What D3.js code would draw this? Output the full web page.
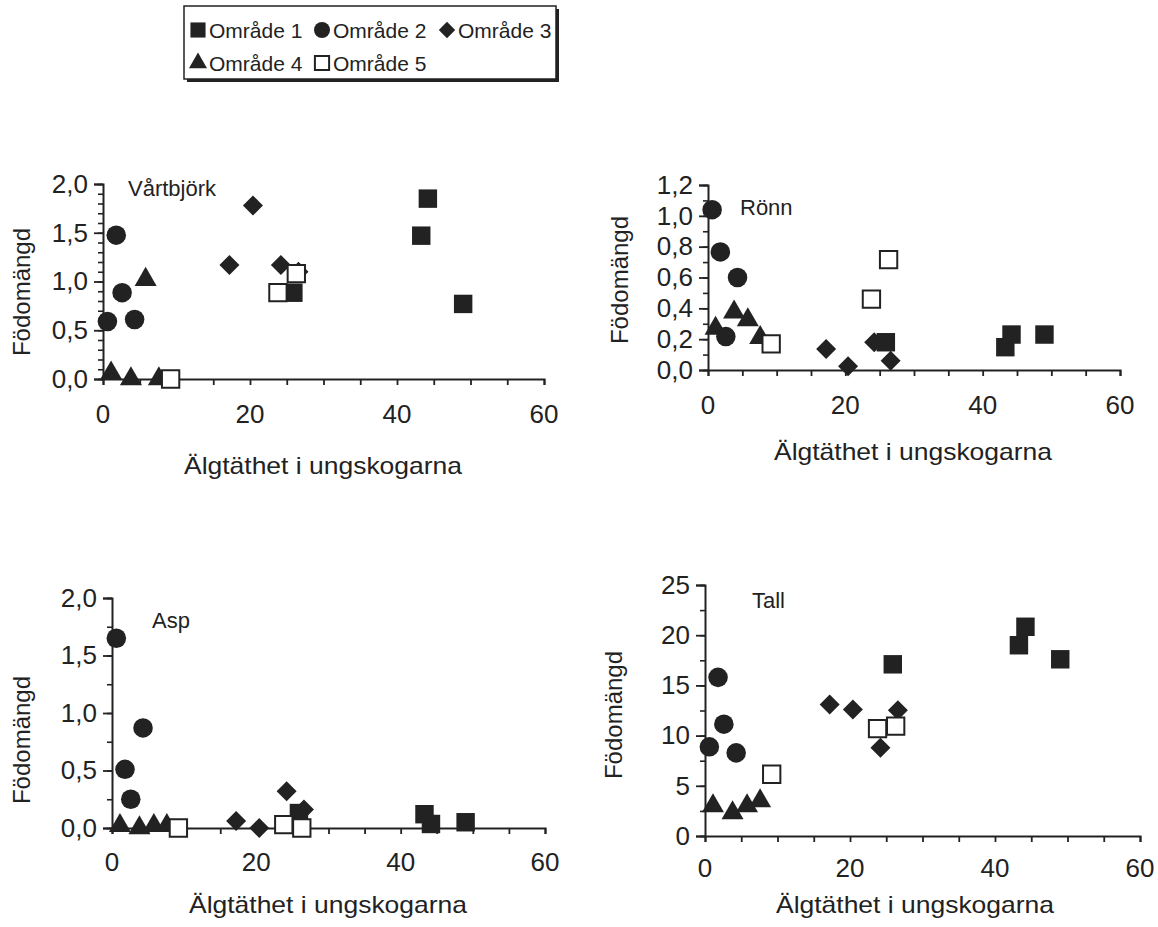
<!DOCTYPE html>
<html lang="sv">
<head>
<meta charset="UTF-8">
<title>Födomängd och älgtäthet</title>
<style>
    body { margin: 0; background: #fff; }
    svg text { font-family: "Liberation Sans", Arial, sans-serif; fill: #222; }
</style>
</head>
<body>
<svg id="chart" width="1158" height="927"></svg>
<script src="https://d3js.org/d3.v7.min.js"></script>
<script>
// Areas (legend order)
const areas = ["Område 1", "Område 2", "Område 3", "Område 4", "Område 5"];

// Moose density in young forests per area (x values, same sites in every panel)
const densityOmr1 = [25.9, 43.3, 44.2, 49.0];
const densityOmr2 = [0.6, 1.8, 2.6, 4.3];
const densityOmr3 = [17.2, 20.4, 24.2, 26.6];
const densityOmr4 = [1.1, 3.8, 5.8, 7.6];
const densityOmr5 = [9.2, 23.8, 26.3];

// Food amount per species and area (y values)
const vartbjorkOmr1 = [0.885, 1.47, 1.85, 0.77];
const vartbjorkOmr2 = [0.59, 1.475, 0.885, 0.61];
const vartbjorkOmr3 = [1.17, 1.78, 1.17, 1.10];
const vartbjorkOmr4 = [0.06, 0.0, 1.02, 0.0];
const vartbjorkOmr5 = [0.0, 0.885, 1.08];

const ronnOmr1 = [0.18, 0.148, 0.23, 0.23];
const ronnOmr2 = [1.04, 0.766, 0.217, 0.6];
const ronnOmr3 = [0.137, 0.024, 0.18, 0.06];
const ronnOmr4 = [0.27, 0.375, 0.325, 0.21];
const ronnOmr5 = [0.17, 0.46, 0.716];

const aspOmr1 = [0.13, 0.12, 0.035, 0.05];
const aspOmr2 = [1.65, 0.51, 0.25, 0.87];
const aspOmr3 = [0.06, 0.0, 0.32, 0.16];
const aspOmr4 = [0.02, 0.0, 0.02, 0.02];
const aspOmr5 = [0.0, 0.03, 0.0];

const tallOmr1 = [17.1, 19.0, 20.84, 17.6];
const tallOmr2 = [8.88, 15.8, 11.14, 8.28];
const tallOmr3 = [13.1, 12.6, 8.8, 12.53];
const tallOmr4 = [3.0, 2.3, 3.0, 3.5];
const tallOmr5 = [6.15, 10.7, 10.94];

const xTicks = [0, 20, 40, 60];
const xTitle = "Älgtäthet i ungskogarna";
const yTitle = "Födomängd";

const densities = [densityOmr1, densityOmr2, densityOmr3, densityOmr4, densityOmr5];

// panel layout (pixels on the page)
const panels = [
    { name: "Vårtbjörk", values: [vartbjorkOmr1, vartbjorkOmr2, vartbjorkOmr3, vartbjorkOmr4, vartbjorkOmr5],
      yMax: 2.0, major: 0.5, minor: 0.1, dec: 1,
      left: 103, right: 544, bottom: 379, top: 184,
      nameX: 128, nameY: 196, xTitleX: 323, xTitleY: 474, yTitleX: 22, yTitleY: 292, xLabDy: 44 },
    { name: "Rönn", values: [ronnOmr1, ronnOmr2, ronnOmr3, ronnOmr4, ronnOmr5],
      yMax: 1.2, major: 0.2, minor: 0.1, dec: 1,
      left: 708, right: 1120, bottom: 370, top: 185,
      nameX: 740, nameY: 215, xTitleX: 913, xTitleY: 460, yTitleX: 620, yTitleY: 280, xLabDy: 44 },
    { name: "Asp", values: [aspOmr1, aspOmr2, aspOmr3, aspOmr4, aspOmr5],
      yMax: 2.0, major: 0.5, minor: 0.25, dec: 1,
      left: 112, right: 545, bottom: 828, top: 598,
      nameX: 152, nameY: 628, xTitleX: 328, xTitleY: 913, yTitleX: 22, yTitleY: 740, xLabDy: 43 },
    { name: "Tall", values: [tallOmr1, tallOmr2, tallOmr3, tallOmr4, tallOmr5],
      yMax: 25, major: 5, minor: 2.5, dec: 0,
      left: 705, right: 1140, bottom: 836, top: 585,
      nameX: 752, nameY: 608, xTitleX: 915, xTitleY: 913, yTitleX: 614, yTitleY: 715, xLabDy: 41 }
];

const ink = "#222";
const shapes = [d3.symbolSquare, d3.symbolCircle, d3.symbolSquare, d3.symbolTriangle, d3.symbolSquare];
const sizes = [340, 300, 200, 210, 300];
const drawOrder = [2, 3, 1, 0, 4];

const svg = d3.select("#chart");

function fmt(v, dec) {
    return v.toFixed(dec).replace(".", ",");
}

function marker(g, i, x, y, scale) {
    const s = scale || 1;
    const p = g.append("path")
        .attr("d", d3.symbol().type(shapes[i]).size(sizes[i] * s * s)())
        .attr("transform", `translate(${x},${y})` + (i === 2 ? " rotate(45)" : ""));
    if (i === 4) {
        p.attr("fill", "#fff").attr("stroke", ink).attr("stroke-width", 2);
    } else {
        p.attr("fill", ink);
    }
    return p;
}

panels.forEach(pn => {
    const x = d3.scaleLinear().domain([0, 60]).range([pn.left, pn.right]);
    const y = d3.scaleLinear().domain([0, pn.yMax]).range([pn.bottom, pn.top]);
    const g = svg.append("g");

    // y axis: minor ticks, then major ticks with labels
    const minorY = d3.range(0, pn.yMax + 1e-9, pn.minor);
    g.append("g")
        .attr("transform", `translate(${pn.left},0)`)
        .call(d3.axisLeft(y).tickValues(minorY).tickSize(5).tickFormat(""))
        .call(a => a.select(".domain").remove())
        .call(a => a.selectAll("line").attr("stroke", ink).attr("stroke-width", 1.6));

    const yAxis = g.append("g")
        .attr("transform", `translate(${pn.left},0)`)
        .attr("font-size", 26)
        .call(d3.axisLeft(y)
            .tickValues(d3.range(0, pn.yMax + 1e-9, pn.major))
            .tickSize(9).tickSizeOuter(9).tickPadding(6)
            .tickFormat(d => fmt(d, pn.dec)));
    yAxis.attr("font-size", 26).attr("font-family", "Liberation Sans, Arial, sans-serif");
    yAxis.select(".domain").attr("stroke", ink).attr("stroke-width", 2);
    yAxis.selectAll("line").attr("stroke", ink).attr("stroke-width", 1.8);
    yAxis.selectAll("text").style("font-size", "26px").attr("fill", ink);

    // x axis
    g.append("g")
        .attr("transform", `translate(0,${pn.bottom})`)
        .call(d3.axisBottom(x).tickValues(d3.range(0, 61, 5)).tickSize(6).tickFormat(""))
        .call(a => a.select(".domain").attr("stroke", ink).attr("stroke-width", 2))
        .call(a => a.selectAll("line").attr("stroke", ink).attr("stroke-width", 1.8));

    g.selectAll(".xlab")
        .data(xTicks)
        .join("text")
        .attr("x", d => x(d))
        .attr("y", pn.bottom + pn.xLabDy)
        .attr("text-anchor", "middle")
        .style("font-size", "26px")
        .text(d => d);

    // titles
    g.append("text")
        .attr("x", pn.xTitleX)
        .attr("y", pn.xTitleY)
        .attr("text-anchor", "middle")
        .style("font-size", "24px")
        .attr("textLength", 278)
        .attr("lengthAdjust", "spacingAndGlyphs")
        .text(xTitle);

    g.append("text")
        .attr("transform", `translate(${pn.yTitleX + 8},${pn.yTitleY}) rotate(-90)`)
        .attr("text-anchor", "middle")
        .style("font-size", "24px")
        .text(yTitle);

    g.append("text")
        .attr("x", pn.nameX)
        .attr("y", pn.nameY)
        .style("font-size", "22px")
        .text(pn.name);

    // points
    drawOrder.forEach(i => {
        densities[i].forEach((dx, k) => {
            marker(g, i, x(dx), y(pn.values[i][k]));
        });
    });
});

// legend
const legend = svg.append("g");
legend.append("rect")
    .attr("x", 187).attr("y", 9).attr("width", 372).attr("height", 73)
    .attr("fill", ink);
legend.append("rect")
    .attr("x", 184).attr("y", 6).attr("width", 372).attr("height", 73)
    .attr("fill", "#fff").attr("stroke", ink).attr("stroke-width", 1.5);

const legendPos = [[198, 30], [322, 30], [447, 30], [198, 63], [322, 63]];
areas.forEach((name, i) => {
    const [lx, ly] = legendPos[i];
    marker(legend, i, lx, ly, 0.82);
    legend.append("text")
        .attr("x", lx + 11)
        .attr("y", ly + 8)
        .style("font-size", "21px")
        .text(name);
});
</script>
</body>
</html>
